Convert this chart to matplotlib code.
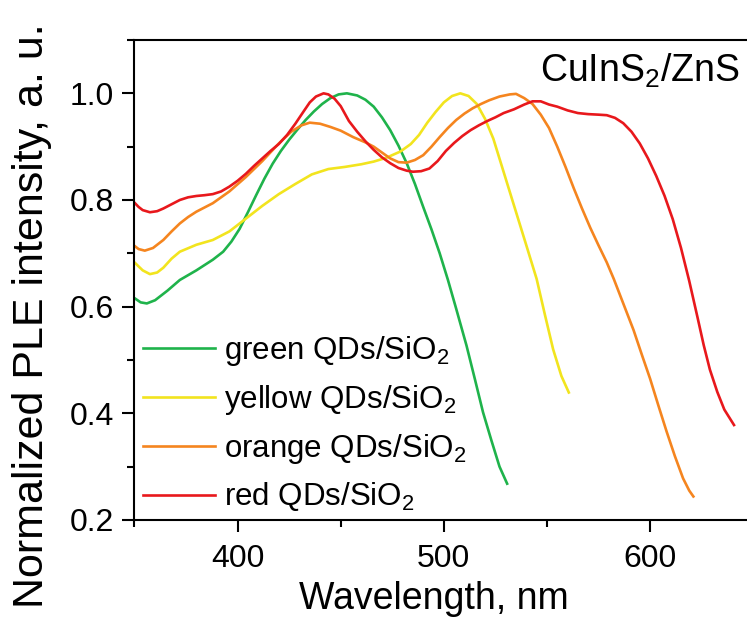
import numpy as np
import matplotlib
matplotlib.use('Agg')
import matplotlib.pyplot as plt
from matplotlib.ticker import MultipleLocator

plt.rcParams['font.family'] = ['Liberation Sans', 'DejaVu Sans']
plt.rcParams['mathtext.fontset'] = 'custom'
plt.rcParams['mathtext.rm'] = 'Liberation Sans'
plt.rcParams['mathtext.it'] = 'Liberation Sans:italic'
plt.rcParams['mathtext.bf'] = 'Liberation Sans:bold'

# PLE spectra (wavelength in nm, normalized intensity)
green_wl = [350, 353, 356, 360, 366, 372, 380, 388, 393, 397, 401, 405, 409, 413,
            417, 421, 425, 429, 433, 437, 441, 445, 449, 453, 458, 462, 466, 470,
            474, 478, 482, 486, 490, 494, 498, 502, 506, 511, 515, 519, 523, 527, 530.7]
green_int = [0.616, 0.608, 0.606, 0.612, 0.630, 0.650, 0.668, 0.688, 0.703, 0.722,
             0.746, 0.777, 0.809, 0.840, 0.868, 0.892, 0.913, 0.932, 0.950, 0.966,
             0.980, 0.991, 0.998, 1.000, 0.996, 0.988, 0.975, 0.955, 0.931, 0.902,
             0.869, 0.830, 0.787, 0.745, 0.700, 0.650, 0.596, 0.527, 0.465, 0.402,
             0.350, 0.300, 0.268]

yellow_wl = [350, 354, 357.5, 361, 364, 368, 372, 380, 388, 396, 404, 412, 420, 428,
             436, 444, 452, 460, 466, 472, 479, 484, 488, 492, 496, 500, 504, 508,
             512, 516, 520, 524, 528, 532, 536, 540, 545, 549, 553, 557, 560.6]
yellow_int = [0.683, 0.668, 0.661, 0.664, 0.673, 0.690, 0.703, 0.716, 0.725, 0.741,
              0.765, 0.789, 0.811, 0.830, 0.848, 0.858, 0.862, 0.867, 0.872, 0.879,
              0.891, 0.905, 0.922, 0.945, 0.965, 0.983, 0.995, 1.000, 0.995, 0.980,
              0.952, 0.915, 0.865, 0.815, 0.765, 0.715, 0.652, 0.585, 0.520, 0.470,
              0.439]

orange_wl = [350, 352, 355, 359, 364, 368, 372, 376, 380, 388, 396, 404, 412, 420,
             426, 431, 435, 440, 445, 450, 456, 462, 466, 470, 474, 478, 482, 486,
             490, 494, 498, 502, 506, 510, 514, 518, 522, 527, 532, 535, 539, 543,
             547, 551, 555, 559, 563, 567, 571, 575, 579, 582.4, 587, 592, 596, 600,
             604, 608, 612, 616, 619, 621]
orange_int = [0.714, 0.708, 0.705, 0.710, 0.725, 0.741, 0.756, 0.768, 0.778, 0.794,
              0.816, 0.843, 0.873, 0.906, 0.928, 0.940, 0.945, 0.943, 0.937, 0.930,
              0.918, 0.908, 0.900, 0.889, 0.878, 0.871, 0.870, 0.875, 0.884, 0.900,
              0.918, 0.935, 0.950, 0.962, 0.972, 0.980, 0.987, 0.994, 0.998, 0.999,
              0.991, 0.980, 0.960, 0.935, 0.900, 0.862, 0.822, 0.784, 0.748, 0.715,
              0.683, 0.652, 0.606, 0.556, 0.510, 0.465, 0.415, 0.366, 0.320, 0.278,
              0.255, 0.244]

red_wl = [350, 352, 354, 357.5, 361, 364, 368, 372, 376, 380, 384, 388, 392, 396,
          400, 404, 408, 412, 416, 420, 424, 428, 432, 435, 438, 441.7, 444, 447,
          450, 454, 458, 462, 466, 470, 474, 478, 482, 485, 489, 493, 497, 501, 505,
          509, 513, 517, 521, 525, 529, 534, 539, 543, 547, 551, 555, 560, 565, 570,
          575, 579, 583, 587, 591, 595, 599, 603, 607, 611, 615, 619, 623, 626, 629,
          632.6, 636, 640.7]
red_int = [0.795, 0.787, 0.781, 0.777, 0.779, 0.784, 0.792, 0.800, 0.805, 0.8075,
           0.809, 0.811, 0.816, 0.825, 0.836, 0.849, 0.864, 0.878, 0.892, 0.905,
           0.922, 0.943, 0.966, 0.983, 0.994, 1.000, 0.998, 0.990, 0.976, 0.948,
           0.928, 0.910, 0.894, 0.880, 0.869, 0.860, 0.855, 0.853, 0.854, 0.859,
           0.873, 0.892, 0.907, 0.920, 0.931, 0.940, 0.948, 0.955, 0.963, 0.970,
           0.979, 0.985, 0.985, 0.979, 0.975, 0.968, 0.963, 0.961, 0.960, 0.959,
           0.954, 0.944, 0.928, 0.906, 0.878, 0.845, 0.808, 0.764, 0.710, 0.648,
           0.580, 0.528, 0.482, 0.440, 0.407, 0.378]

labels = ['green QDs/SiO$_2$', 'yellow QDs/SiO$_2$',
          'orange QDs/SiO$_2$', 'red QDs/SiO$_2$']
colors = ['#1fb34b', '#f2e41e', '#f5851f', '#e8181c']

fig = plt.figure(figsize=(7.47, 6.31), dpi=100)
ax = fig.add_axes([0.18, 0.176, 0.82, 0.7606])

series = [(green_wl, green_int), (yellow_wl, yellow_int),
          (orange_wl, orange_int), (red_wl, red_int)]
for (wl, inten), lab, col in zip(series, labels, colors):
    ax.plot(wl, inten, color=col, lw=1.9, label=lab)

ax.set_xlim(350, 647)
ax.set_ylim(0.2, 1.1)
ax.xaxis.set_major_locator(MultipleLocator(100))
ax.xaxis.set_minor_locator(MultipleLocator(50))
ax.yaxis.set_major_locator(MultipleLocator(0.2))
ax.yaxis.set_minor_locator(MultipleLocator(0.1))
ax.yaxis.set_major_formatter(plt.FormatStrFormatter('%.1f'))

ax.spines['right'].set_visible(False)
for s in ['left', 'bottom', 'top']:
    ax.spines[s].set_linewidth(1.5)
ax.tick_params(which='major', direction='out', length=8.5, width=1.5,
               labelsize=23, pad=6)
ax.tick_params(axis='x', which='major', pad=9)
ax.tick_params(which='minor', direction='out', length=5, width=1.5)
ax.tick_params(top=False, right=False, which='both')

ax.set_xlabel('Wavelength, nm', fontsize=27)
ax.set_ylabel('Normalized PLE intensity, a. u.', fontsize=31)
ax.xaxis.set_label_coords(0.489, -0.128)
ax.yaxis.set_label_coords(-0.135, 0.425)

ax.text(0.988, 0.9125, 'CuInS$_2$/ZnS', transform=ax.transAxes,
        ha='right', va='baseline', fontsize=27)

ax.legend(loc='center left', bbox_to_anchor=(0.0139, 0.200), frameon=False,
          fontsize=22.5, handlelength=2.3, handletextpad=0.29, labelspacing=0.47,
          borderpad=0, borderaxespad=0)

fig.savefig('out.png', dpi=100)
